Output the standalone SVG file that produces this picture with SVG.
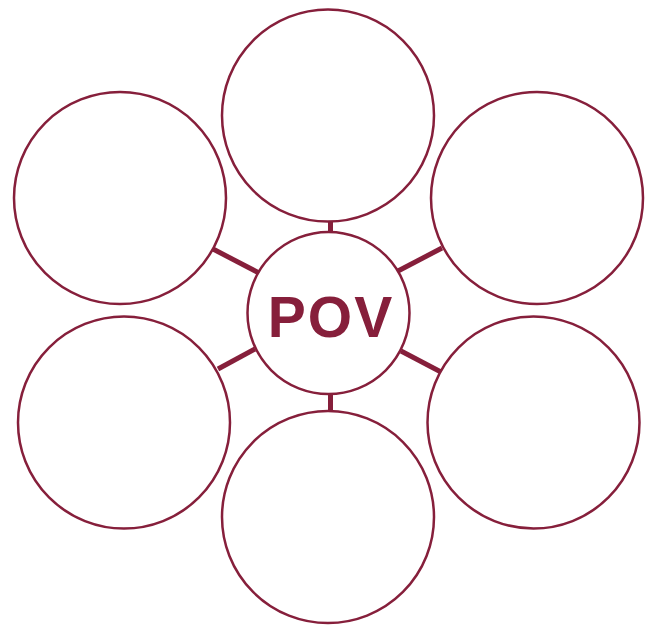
<svg xmlns="http://www.w3.org/2000/svg" width="652" height="625" viewBox="0 0 652 625">
<style>
.c{fill:#fff;stroke:#861f3b;stroke-width:2.5}
.l{stroke:#861f3b;stroke-width:5;fill:none}
.t{font-family:"Liberation Sans",Arial,sans-serif;font-weight:bold;font-size:57px;fill:#861f3b;text-anchor:middle;letter-spacing:2px}
</style>
<rect width="652" height="625" fill="#fff"/>
<g id="connectors">
<line class="l" x1="330.5" y1="221" x2="330.5" y2="233"/>
<line class="l" x1="330.5" y1="393" x2="330.5" y2="411"/>
<line class="l" x1="213" y1="249" x2="259" y2="273"/>
<line class="l" x1="398" y1="271" x2="442" y2="248"/>
<line class="l" x1="218" y1="369" x2="255" y2="349"/>
<line class="l" x1="401" y1="351" x2="441" y2="372"/>
</g>
<g id="top"><circle class="c" cx="328" cy="115.5" r="106"/></g>
<g id="top-left"><circle class="c" cx="120" cy="198" r="106"/></g>
<g id="top-right"><circle class="c" cx="537" cy="198" r="106"/></g>
<g id="bottom-left"><circle class="c" cx="124" cy="422.5" r="106"/></g>
<g id="bottom-right"><circle class="c" cx="533.5" cy="422.5" r="106"/></g>
<g id="bottom"><circle class="c" cx="328" cy="517" r="106"/></g>
<g id="center"><circle class="c" cx="328.5" cy="313" r="81"/>
<text class="t" x="331" y="337">POV</text></g>
</svg>
